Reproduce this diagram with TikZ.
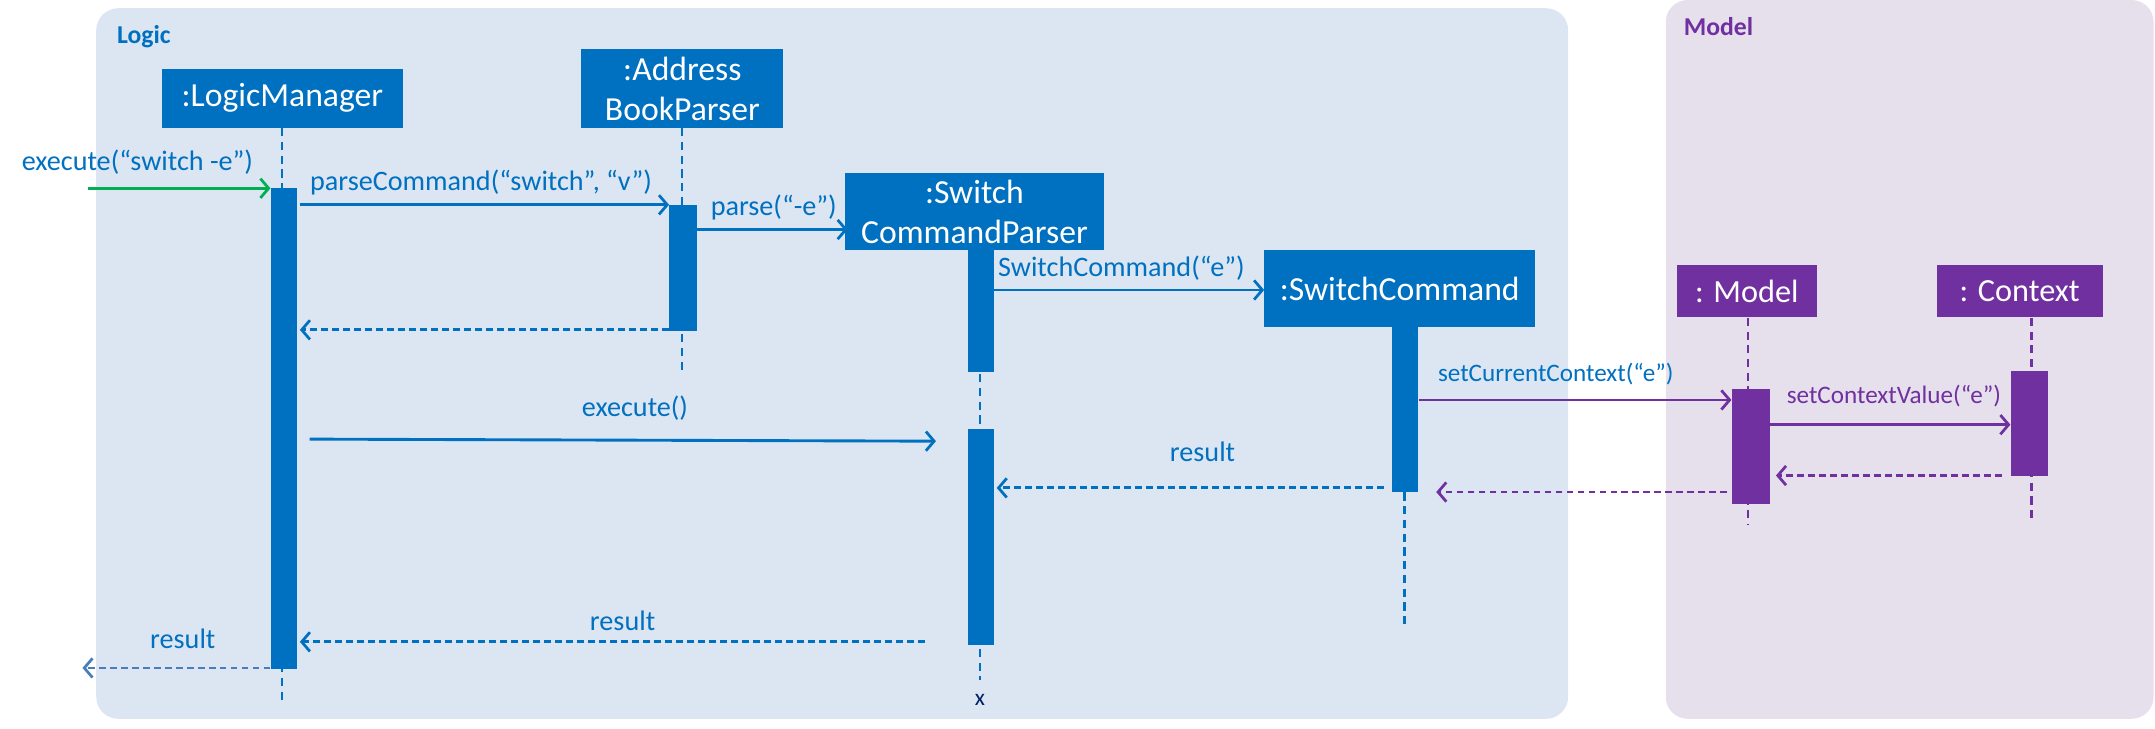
\documentclass[tikz,border=0pt]{standalone}
\usepackage{fontspec}
\setmainfont{Carlito}
\usetikzlibrary{arrows.meta}
\definecolor{lblue}{HTML}{0070C0}
\definecolor{lpurple}{HTML}{7030A0}
\definecolor{lgreen}{HTML}{00B050}
\definecolor{logicbg}{HTML}{DCE6F2}
\definecolor{modelbg}{HTML}{E6E0EC}
\definecolor{softblue}{HTML}{4A7EBB}
\definecolor{navy}{HTML}{002060}
\tikzset{
  objbox/.style={fill=#1, text=white, inner sep=0pt, align=center,
    font=\fontsize{24.5}{29}\selectfont},
  actbar/.style={fill=#1, inner sep=0pt, minimum width=19pt},
  lifeline/.style={draw=#1, line width=1.7pt, dash pattern=on 6pt off 4pt},
  msg/.style={draw=#1, line width=2.1pt, -{Straight Barb[length=6pt,width=14pt,line width=2pt]}},
  retmsg/.style={msg=#1, dash pattern=on 5pt off 3pt},
  mlabel/.style={text=#1, inner sep=0pt, font=\fontsize{20.5}{23}\selectfont},
  slabel/.style={text=#1, inner sep=0pt, font=\fontsize{18.3}{21}\selectfont},
  framelabel/.style={text=#1, inner sep=0pt, font=\fontsize{18.7}{21}\selectfont\bfseries}
}
\begin{document}
\begin{tikzpicture}[x=1pt,y=-1pt]
\useasboundingbox (0,0) rectangle (1568,530);
% frames
\fill[logicbg, rounded corners=16pt] (70,6) rectangle (1141,523);
\fill[modelbg, rounded corners=16pt] (1212,0) rectangle (1567,523);
\node[framelabel=lblue, anchor=west] (logiclbl) at (85,27) {Logic};
\node[framelabel=lpurple, anchor=west] (modellbl) at (1225,19) {Model};

% object boxes
\node[objbox=lblue, minimum width=175pt, minimum height=43pt] (lm) at (205.5,71.5) {:LogicManager};
\node[objbox=lblue, minimum width=147pt, minimum height=57pt] (abp) at (496.5,64.5) {:Address\\BookParser};
\node[objbox=lblue, minimum width=188pt, minimum height=56pt] (scp) at (709,154) {:Switch\\CommandParser};
\node[objbox=lblue, minimum width=197pt, minimum height=56pt] (sc) at (1018.5,210) {:SwitchCommand};
\node[objbox=lpurple, minimum width=102pt, minimum height=38pt, font=\fontsize{23.5}{28}\selectfont] (model) at (1271,212) {: Model};
\node[objbox=lpurple, minimum width=121pt, minimum height=38pt, font=\fontsize{23.5}{28}\selectfont] (ctx) at (1469.5,212) {: Context};

% lifeline ends
\coordinate (lmend) at (205,510);
\coordinate (abpend) at (496,272);
\coordinate (scpend) at (713,495);
\coordinate (scend) at (1022,457);
\coordinate (modelend) at (1272,382);
\coordinate (ctxend) at (1478,380);

\draw[lifeline=lblue] (lm.south -| lmend) -- (lmend);
\draw[lifeline=lblue] (abp.south -| abpend) -- (abpend);
\draw[lifeline=lblue] (scp.south -| scpend) -- (scpend);
\draw[lifeline=lblue] (sc.south -| scend) -- (scend);
\draw[lifeline=lpurple] (model.south -| modelend) -- (modelend);
\draw[lifeline=lpurple] (ctx.south -| ctxend) -- (ctxend);

% activation bars
\node[actbar=lblue, minimum height=350pt] (lmact) at (206.5,312) {};
\node[actbar=lblue, minimum width=20pt, minimum height=92pt] (abpact) at (497,195) {};
\node[actbar=lblue, minimum height=89pt] (scpact1) at (713.5,226.5) {};
\node[actbar=lblue, minimum height=157pt] (scpact2) at (713.5,390.5) {};
\node[actbar=lblue, minimum height=120pt] (scact) at (1022.5,298) {};
\node[actbar=lpurple, minimum width=28pt, minimum height=84pt] (modelact) at (1274,325) {};
\node[actbar=lpurple, minimum width=27pt, minimum height=76pt] (ctxact) at (1476.5,308) {};

% messages
\coordinate (start) at (64,137);
\draw[msg=lgreen] (start) -- (lmact.west |- start);
\node[mlabel=lblue] (l1) at (100,118) {execute(“switch -e”)};

\draw[msg=lblue] ([xshift=2pt]lmact.east |- 0,149) -- (abpact.west |- 0,149);
\node[mlabel=lblue] (l2) at (350,133) {parseCommand(“switch”, “v”)};

\draw[msg=lblue] (abpact.east |- 0,167) -- ([xshift=2pt]scp.west |- 0,167);
\node[mlabel=lblue] (l3) at (563,151) {parse(“-e”)};

\draw[msg=lblue] (scpact1.east |- 0,211) -- (sc.west |- 0,211);
\node[mlabel=lblue] (l4) at (816,195) {SwitchCommand(“e”)};

\draw[retmsg=lblue] (abpact.west |- 0,240) -- ([xshift=2pt]lmact.east |- 0,240);

\coordinate (exend) at (681,321);
\draw[msg=lblue] ([xshift=9pt]lmact.east |- 0,319.5) -- (exend);
\node[mlabel=lblue] (l5) at (462,297) {execute()};

\draw[msg=lpurple] (scact.east |- 0,291) -- (modelact.west |- 0,291);
\node[slabel=lblue] (l6) at (1132,272) {setCurrentContext(“e”)};

\draw[msg=lpurple] (modelact.east |- 0,309) -- (ctxact.west |- 0,309);
\node[slabel=lpurple] (l7) at (1378,288) {setContextValue(“e”)};

\draw[retmsg=lpurple] ([xshift=-6pt]ctxact.west |- 0,346) -- ([xshift=4pt]modelact.east |- 0,346);
\coordinate (modelret) at (1045,358);
\draw[retmsg=lpurple] ([xshift=-3pt]modelact.west |- 0,358) -- (modelret);

\draw[retmsg=lblue] ([xshift=-6pt]scact.west |- 0,355) -- ([xshift=2pt]scpact2.east |- 0,355);
\node[mlabel=lblue] (l8) at (875,329) {result};

\coordinate (res2start) at (673,467);
\draw[retmsg=lblue] (res2start) -- ([xshift=2pt]lmact.east |- res2start);
\node[mlabel=lblue] (l9) at (453,452) {result};

\coordinate (res3end) at (60,486);
\draw[retmsg=softblue] (lmact.west |- res3end) -- (res3end);
\node[mlabel=lblue] (l10) at (133,465) {result};

\node[text=navy, inner sep=0pt, font=\fontsize{17}{19}\selectfont] (xmark) at (713,509) {x};
\end{tikzpicture}
\end{document}
